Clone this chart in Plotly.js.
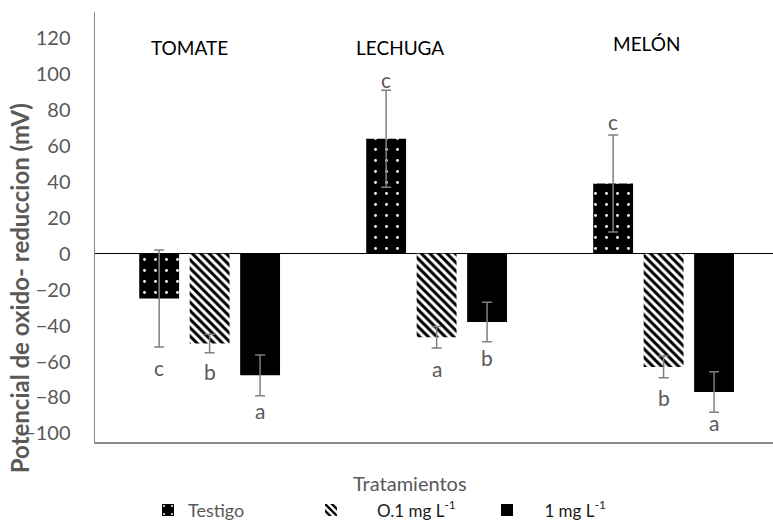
<!DOCTYPE html>
<html>
<head>
<meta charset="utf-8">
<script src="https://cdn.plot.ly/plotly-3.0.1.min.js"></script>
<style>html,body{margin:0;padding:0;background:#fff;}#chart{width:773px;height:529px;}</style>
</head>
<body>
<div id="chart"></div>
<script>
var categories = ['TOMATE', 'LECHUGA', 'MELÓN'];
var seriesNames = ['Testigo', 'O.1 mg L<sup>-1</sup>', '1 mg L<sup>-1</sup>'];
var testigo = [-25, 64, 39];
var testigoErr = [27, 27, 27];
var dosis01 = [-50, -46.5, -63];
var dosis01Err = [5.2, 6, 6];
var dosis1 = [-67.7, -38, -77];
var dosis1Err = [11.3, 11, 11.3];
var letters = [['c', 'b', 'a'], ['c', 'a', 'b'], ['c', 'b', 'a']];
var letterY = [[-63.1, -65.8, -87.2], [96.7, -63.8, -57.7], [73.3, -79.8, -93.7]];
var yTicks = [120, 100, 80, 60, 40, 20, 0, -20, -40, -60, -80, -100];

var gray = '#595959';
var errStyle = function(arr){ return {type:'data', array:arr, visible:true, color:'#808080', thickness:1.5, width:5}; };

var traces = [
  {type:'bar', name:seriesNames[0], x:categories, y:testigo, error_y:errStyle(testigoErr),
   marker:{color:'black', line:{width:0}, pattern:{shape:'.', fgcolor:'#ffffff', bgcolor:'#000000', size:11, solidity:0.05}},
   legend:'legend', showlegend:true},
  {type:'bar', name:'&nbsp;&nbsp;&nbsp;&nbsp;&nbsp;&nbsp;' + seriesNames[1], x:categories, y:dosis01, error_y:errStyle(dosis01Err),
   marker:{color:'black', line:{width:0}, pattern:{shape:'\\', fgcolor:'#000000', bgcolor:'#ffffff', size:6, solidity:0.5}},
   legend:'legend2', showlegend:true},
  {type:'bar', name:'&nbsp;&nbsp;&nbsp;&nbsp;' + seriesNames[2], x:categories, y:dosis1, error_y:errStyle(dosis1Err),
   marker:{color:'black', line:{width:0}},
   legend:'legend3', showlegend:true}
];

var annotations = [];
var offsets = [-50.5, 0, 50.5];
for (var c = 0; c < categories.length; c++) {
  for (var s = 0; s < 3; s++) {
    annotations.push({xref:'x', yref:'y', x:categories[c], y:letterY[c][s], xshift:offsets[s], xanchor:'center',
      text:letters[c][s], showarrow:false, font:{family:'Lato, sans-serif', size:21, color:gray}});
  }
}
var catTitlePos = [[189, 47], [400, 47], [646, 43]];
for (var i = 0; i < categories.length; i++) {
  annotations.push({xref:'paper', yref:'paper', x:(catTitlePos[i][0]-95)/678, y:(441.7-catTitlePos[i][1])/429.7,
    xanchor:'center', yanchor:'middle',
    text:categories[i], showarrow:false, font:{family:'Lato, sans-serif', size:19, color:'#000000'}});
}
annotations.push({xref:'paper', yref:'paper', x:(409.5-95)/678, y:(441.7-483)/429.7, xanchor:'center', yanchor:'middle',
  text:'Tratamientos', showarrow:false, font:{family:'Lato, sans-serif', size:20, color:gray}});
annotations.push({xref:'paper', yref:'paper', x:(19-95)/678, y:(441.7-288)/429.7, textangle:-90, xanchor:'center', yanchor:'middle',
  text:'<b>Potencial de oxido- reduccion (mV)</b>', showarrow:false, font:{family:'Lato, sans-serif', size:24, color:gray}});

var legBase = {orientation:'h', yanchor:'middle', y:(441.7-510)/429.7, xanchor:'left', bgcolor:'rgba(0,0,0,0)'};
var layout = {
  width:773, height:529, showlegend:true,
  margin:{l:95, r:0, t:12, b:87.3},
  paper_bgcolor:'#ffffff', plot_bgcolor:'#ffffff',
  barmode:'group', bargap:0.333, bargroupgap:0.21,
  font:{family:'Lato, sans-serif'},
  xaxis:{type:'category', range:[-0.505, 2.482], showticklabels:false, ticks:'', showgrid:false, zeroline:false,
    showline:true, linecolor:'#8c8c8c', linewidth:1.5},
  yaxis:{range:[-104.8, 134.5], tickvals:yTicks, ticks:'', showgrid:false, zeroline:true, zerolinecolor:'#000000', zerolinewidth:1.5,
    showline:true, linecolor:'#8c8c8c', linewidth:1.5, ticklabelstandoff:19, tickfont:{family:'Lato, sans-serif', size:20, color:gray}},
  legend:Object.assign({}, legBase, {x:(148-95)/678, font:{family:'Lato, sans-serif', size:18, color:gray}}),
  legend2:Object.assign({}, legBase, {x:(311-95)/678, font:{family:'Lato, sans-serif', size:17, color:'#1a1a1a'}}),
  legend3:Object.assign({}, legBase, {x:(487-95)/678, font:{family:'Lato, sans-serif', size:17, color:'#1a1a1a'}}),
  annotations:annotations
};
Plotly.newPlot('chart', traces, layout, {displayModeBar:false, staticPlot:true});
</script>
</body>
</html>
